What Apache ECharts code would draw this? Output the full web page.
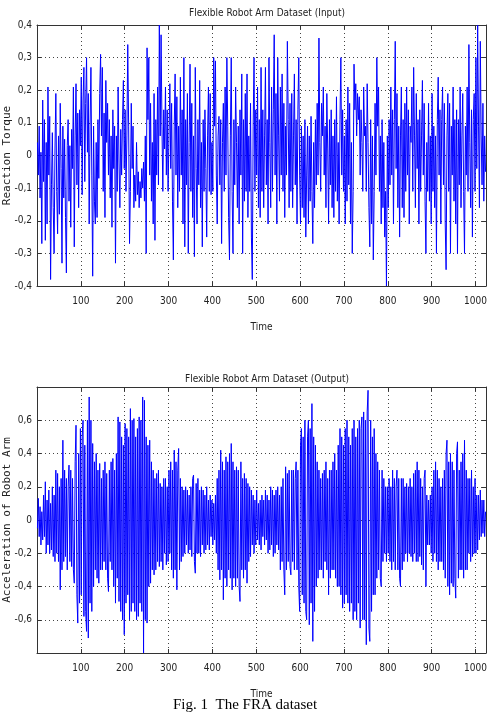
<!DOCTYPE html>
<html>
<head>
<meta charset="utf-8">
<script src="https://cdn.jsdelivr.net/npm/echarts@6/dist/echarts.min.js"></script>
<style>html,body{margin:0;padding:0;background:#fff;}#c{width:492px;height:712px;}</style>
</head>
<body>
<div id="c"></div>
<script>
// Flexible Robot Arm dataset (every 2nd sample, t = 1,3,5,...)
const inputValues = [
0.04,-0.06,0.09,-0.13,0.01,-0.27,0.17,-0.08,0.11,-0.26,0.04,-0.21,0.21,-0.06,0.12,-0.38,-0.09,0.07,-0.16,-0.3,0.02,0.19,-0.11,-0.24,0.06,-0.18,0.16,-0.04,-0.33,0.09,-0.13,0.05,
-0.19,-0.36,0.03,0.11,-0.14,0.03,-0.22,0.08,-0.04,0.21,-0.28,0.06,0.22,-0.09,0.13,-0.16,0.14,0.03,0.24,-0.12,0.17,0.27,-0.08,0.16,0.3,0.01,0.19,-0.21,0.09,0.27,-0.06,-0.37,
0.09,-0.14,-0.21,0.04,-0.19,0.11,-0.07,0.19,0.31,0.06,0.27,-0.11,0.13,-0.19,0.23,0.04,0.16,-0.06,0.11,-0.13,0.06,-0.22,0.14,-0.04,0.09,-0.33,0.06,-0.11,0.21,-0.02,-0.16,0.08,
-0.06,0.11,0.23,-0.04,0.14,-0.11,0.06,0.34,0.09,-0.27,-0.11,0.16,-0.04,0.09,-0.16,-0.06,-0.14,0.04,-0.12,-0.05,-0.16,-0.08,-0.13,-0.04,-0.1,-0.02,-0.14,0.06,-0.3,0.33,0.11,0.3,
-0.06,0.16,-0.14,0.04,-0.21,0.19,-0.26,0.11,-0.06,0.21,-0.09,0.4,0.06,0.37,0.09,-0.11,0.14,0.02,0.21,-0.06,0.14,-0.11,0.06,0.22,-0.04,0.16,-0.14,-0.32,0.09,0.25,-0.06,0.18,
-0.16,0.09,-0.11,0.24,-0.06,0.14,-0.21,0.3,-0.28,0.11,-0.09,0.19,-0.3,0.04,0.28,-0.11,0.16,-0.19,0.06,-0.31,0.27,-0.04,-0.21,0.11,-0.09,0.23,-0.16,0.04,-0.28,0.11,-0.11,0.14,
-0.04,-0.25,0.06,0.21,-0.11,0.19,-0.12,0.04,-0.11,0.3,0.09,0.29,-0.06,-0.21,0.06,0.12,-0.09,0.11,-0.27,0.04,0.16,-0.11,0.21,-0.06,0.3,0.09,-0.19,-0.32,0.06,0.3,-0.11,-0.3,
0.11,-0.09,0.21,0.04,-0.16,0.09,-0.21,0.14,-0.06,0.25,-0.3,0.11,-0.14,0.19,-0.11,0.25,-0.19,0.06,-0.11,0.16,-0.25,-0.38,0.09,0.3,-0.11,0.14,-0.06,0.21,-0.16,0.11,-0.19,0.27,
-0.11,0.14,-0.16,0.06,0.27,-0.09,0.11,-0.21,0.3,0.04,-0.16,0.21,-0.11,0.14,0.37,-0.06,0.19,-0.21,0.3,0.06,-0.14,0.21,-0.06,0.25,-0.11,0.16,-0.19,0.09,-0.06,0.35,0.11,-0.16,
0.16,-0.11,0.19,-0.16,0.06,0.25,-0.09,0.11,-0.21,0.14,0.3,-0.06,-0.21,0.09,-0.16,0.06,-0.19,0.11,-0.25,-0.06,0.09,-0.21,0.06,-0.14,0.12,-0.11,-0.27,0.04,-0.16,0.11,-0.09,0.16,
-0.06,0.36,0.04,-0.11,0.16,0.06,0.21,-0.06,0.09,-0.16,0.19,0.02,-0.21,0.11,-0.09,0.14,-0.16,0.06,-0.19,0.11,-0.11,0.18,-0.14,0.04,-0.21,0.11,0.3,-0.06,0.14,-0.11,0.06,-0.21,
0.11,-0.14,0.21,-0.09,0.16,-0.21,0.04,-0.3,-0.11,0.28,0.14,0.22,0.06,0.19,0.11,0.18,-0.06,0.14,0.04,-0.11,0.21,0.06,0.09,-0.11,0.22,0.04,-0.16,-0.28,0.11,-0.21,0.06,-0.32,
-0.11,0.16,-0.06,0.3,0.09,0.21,-0.11,0.06,-0.21,0.11,-0.16,0.04,-0.25,-0.11,-0.4,0.06,-0.16,0.11,-0.09,0.21,-0.06,0.14,-0.21,0.11,0.35,-0.04,0.19,-0.16,0.09,-0.25,0.06,0.21,
-0.16,0.11,-0.19,0.16,-0.11,0.21,-0.06,0.14,-0.21,0.09,0.04,0.21,-0.11,0.27,0.06,-0.16,0.19,-0.04,0.11,-0.21,0.14,-0.11,0.06,0.23,-0.06,0.16,-0.14,-0.3,0.04,-0.11,0.16,-0.14,
0.06,-0.21,0.19,-0.11,0.09,-0.16,0.06,-0.3,0.11,0.24,-0.06,0.14,-0.21,0.11,0.21,-0.09,0.16,-0.21,-0.35,0.06,0.19,-0.11,0.16,-0.3,0.09,-0.06,0.21,-0.14,0.11,-0.21,0.14,-0.3,
0.11,-0.09,0.21,-0.16,0.06,0.19,-0.11,-0.3,0.09,-0.06,0.21,-0.11,0.34,0.04,-0.16,0.14,-0.25,0.11,0.19,-0.11,0.3,-0.04,0.4,0.09,-0.16,0.35,0.06,-0.09,0.16,-0.14,0.06,-0.05
];
const outputValues = [
-0.05,0.13,-0.1,0.08,-0.15,0.05,-0.12,0.15,-0.1,0.23,-0.2,0.12,-0.15,0.18,-0.2,0.1,-0.18,0.2,-0.22,0.15,-0.25,0.3,-0.2,0.28,-0.25,0.2,-0.42,0.25,-0.3,0.48,-0.25,0.3,
-0.22,0.25,-0.3,0.2,0.33,-0.25,0.3,-0.28,0.25,-0.3,-0.38,0.35,0.57,-0.45,-0.62,0.4,-0.5,0.55,-0.45,0.5,0.6,-0.58,0.45,-0.55,-0.67,0.6,-0.71,0.74,-0.5,0.6,-0.55,0.46,
-0.4,0.35,-0.3,0.4,-0.35,0.3,-0.38,0.34,-0.3,0.25,-0.3,0.3,-0.25,0.35,-0.3,0.28,-0.35,-0.43,0.3,-0.25,0.35,-0.3,0.37,-0.4,0.3,-0.5,0.4,-0.35,0.62,-0.49,0.59,-0.55,
0.5,-0.6,0.45,-0.69,0.58,-0.5,0.55,-0.45,0.5,-0.6,0.67,-0.55,0.6,-0.5,0.61,-0.55,0.5,-0.6,0.55,-0.58,0.62,-0.5,0.6,-0.55,0.74,-0.8,0.72,-0.6,0.5,-0.62,0.45,-0.4,
0.48,-0.38,0.35,-0.3,0.3,-0.33,0.25,-0.3,0.28,-0.25,0.3,-0.28,0.22,-0.25,0.2,-0.3,0.25,-0.2,0.25,-0.27,0.2,-0.25,0.3,-0.2,0.35,-0.3,0.3,-0.35,0.42,-0.3,0.35,-0.42,
0.3,0.43,-0.3,0.25,-0.25,0.2,-0.22,0.18,-0.2,0.2,-0.15,0.18,-0.2,0.15,-0.18,0.2,-0.22,0.25,0.27,-0.25,-0.32,0.22,-0.2,0.25,-0.2,0.18,-0.22,0.2,-0.15,0.18,-0.2,0.15,
-0.18,0.2,-0.15,0.12,-0.18,0.15,-0.1,0.12,-0.15,0.1,-0.12,0.15,-0.2,0.25,-0.3,0.3,-0.36,0.42,-0.3,0.35,-0.48,0.3,-0.35,0.38,-0.4,0.35,-0.3,0.4,-0.35,0.46,-0.42,0.35,
-0.35,0.3,-0.4,0.32,-0.35,0.3,-0.4,-0.49,0.35,-0.3,0.25,-0.35,0.28,-0.3,0.25,-0.38,0.22,-0.25,0.2,-0.22,0.18,-0.15,0.15,-0.2,0.12,-0.15,0.18,-0.12,0.1,-0.15,0.12,-0.18,
0.15,-0.1,0.12,-0.15,0.18,-0.12,0.15,-0.2,0.12,-0.18,0.2,-0.15,0.18,-0.22,0.15,-0.2,0.18,-0.15,0.2,-0.18,0.15,-0.3,0.2,-0.25,0.25,-0.3,-0.45,0.32,-0.3,0.28,-0.25,0.3,
-0.28,-0.33,0.3,-0.25,0.3,-0.3,0.25,0.35,-0.3,0.3,-0.4,-0.55,0.45,0.55,-0.45,0.5,-0.5,0.6,-0.55,-0.6,0.5,0.6,-0.63,0.55,-0.5,0.7,-0.73,0.5,-0.55,0.45,-0.4,0.35,
-0.35,0.3,-0.3,0.25,-0.3,0.28,-0.35,0.3,-0.25,0.35,-0.3,0.25,-0.45,0.3,-0.35,0.3,-0.3,0.35,-0.3,0.4,-0.35,0.3,-0.4,0.45,-0.4,0.55,-0.45,0.5,-0.53,0.45,-0.5,0.55,
-0.45,0.6,-0.5,0.5,-0.55,0.45,-0.5,0.55,-0.6,0.6,-0.55,0.5,-0.6,0.55,-0.5,0.6,-0.65,0.55,0.62,-0.6,0.65,-0.6,0.6,-0.75,0.65,0.78,-0.65,-0.73,0.6,-0.55,0.5,-0.45,
0.55,-0.45,0.4,-0.35,0.35,-0.3,0.3,-0.35,-0.4,0.3,-0.25,0.25,-0.2,0.2,-0.25,0.2,-0.2,0.25,-0.25,0.2,-0.3,0.3,-0.25,0.25,-0.3,0.2,0.3,-0.3,0.25,-0.35,-0.4,0.25,
-0.3,0.25,-0.25,0.2,-0.2,0.22,-0.25,0.2,-0.2,0.25,-0.22,0.2,-0.25,0.28,-0.2,0.3,-0.25,0.35,-0.25,0.3,-0.22,0.25,-0.27,0.2,-0.3,0.25,0.3,-0.4,0.15,-0.15,0.12,-0.15,
0.15,-0.2,0.2,-0.25,0.3,-0.2,0.35,-0.25,0.3,-0.3,0.25,-0.25,0.2,-0.25,0.25,-0.3,0.3,-0.35,0.4,0.48,-0.4,0.35,-0.45,0.4,-0.38,0.35,-0.4,0.3,-0.35,-0.47,0.4,0.47,
-0.35,0.3,-0.3,0.35,-0.3,0.4,-0.35,0.48,-0.3,0.3,-0.3,0.25,-0.2,0.25,-0.25,0.3,-0.22,0.2,-0.2,0.25,-0.2,0.15,-0.18,0.15,-0.12,0.18,-0.1,0.12,-0.08,0.12,-0.1,0.05
];
const sampleStep = 2;
const timeIndex = inputValues.map((_, i) => 1 + i * sampleStep);
const xTickValues = [100, 200, 300, 400, 500, 600, 700, 800, 900, 1000];
const titles = ['Flexible Robot Arm Dataset (Input)', 'Flexible Robot Arm Dataset (Output)'];
const yNames = ['Reaction Torque', 'Acceleration of Robot Arm'];
const caption = 'Fig. 1  The FRA dataset';

const chart = echarts.init(document.getElementById('c'), null, {renderer: 'canvas'});
const txt = '#222';
const lblFont = "'Liberation Sans Narrow','DejaVu Sans Condensed',sans-serif";
const fmtY = v => Math.abs(v) < 1e-9 ? '0' : (v < 0 ? '-' : '') + Math.abs(v).toFixed(1).replace('.', ',');
const fmtX = v => xTickValues.indexOf(Math.round(v)) >= 0 ? String(Math.round(v)) : '';
const grids = [
  {left: 37, right: 6, top: 25, height: 261, containLabel: false, outerBoundsMode: 'none'},
  {left: 37, right: 6, top: 387, height: 266, containLabel: false, outerBoundsMode: 'none'}
];
const yRanges = [{min: -0.4, max: 0.4, interval: 0.1, lim: 0.4}, {min: -0.8, max: 0.8, interval: 0.2, lim: 0.6}];
const xAxes = [], yAxes = [];
const edge = {show: true, onZero: false, lineStyle: {color: '#333', width: 1}};
const tick = {show: true, inside: true, length: 4, lineStyle: {color: '#333'}};
grids.forEach((g, gi) => {
  const base = {gridIndex: gi, type: 'value', min: 0, max: 1024, interval: 100};
  xAxes.push(Object.assign({}, base, {
    position: 'bottom', axisLine: edge, axisTick: tick,
    axisLabel: {formatter: fmtX, color: txt, fontFamily: lblFont, fontSize: 10, margin: 10},
    splitLine: {show: true, lineStyle: {color: '#444', type: [1, 3], width: 1}},
    name: 'Time', nameLocation: 'middle', nameGap: 36, nameMoveOverlap: false,
    nameTextStyle: {color: txt, fontFamily: lblFont, fontSize: 10}
  }));
  xAxes.push(Object.assign({}, base, {
    position: 'top', axisLine: edge, axisTick: tick,
    axisLabel: {show: false}, splitLine: {show: false}
  }));
  const r = yRanges[gi];
  const ybase = {gridIndex: gi, type: 'value', min: r.min, max: r.max, interval: r.interval};
  yAxes.push(Object.assign({}, ybase, {
    position: 'left', axisLine: edge, axisTick: tick,
    axisLabel: {formatter: v => Math.abs(v) > r.lim + 1e-6 ? '' : fmtY(v), color: txt, fontFamily: lblFont, fontSize: 10, margin: 5},
    splitLine: {show: true, lineStyle: {color: '#444', type: [1, 3], width: 1}},
    name: yNames[gi], nameLocation: 'middle', nameGap: 24, nameRotate: 90, nameMoveOverlap: false,
    nameTextStyle: {color: txt, fontFamily: "'DejaVu Sans Mono',monospace", fontSize: 11}
  }));
  yAxes.push(Object.assign({}, ybase, {
    position: 'right', axisLine: edge, axisTick: tick,
    axisLabel: {show: false}, splitLine: {show: false}
  }));
});

chart.setOption({
  animation: false,
  backgroundColor: '#fff',
  title: [
    {text: titles[0], left: 262, textAlign: 'center', top: 3, textStyle: {fontFamily: lblFont, fontSize: 10, fontWeight: 'normal', color: txt}},
    {text: titles[1], left: 262, textAlign: 'center', top: 369, textStyle: {fontFamily: lblFont, fontSize: 10, fontWeight: 'normal', color: txt}},
    {text: caption, left: 168, top: 693, textStyle: {fontFamily: "'Liberation Serif','Times New Roman',serif", fontSize: 15, fontWeight: 'normal', color: '#000'}}
  ],
  grid: grids,
  xAxis: xAxes,
  yAxis: yAxes,
  series: [
    {type: 'line', xAxisIndex: 0, yAxisIndex: 0, showSymbol: false, data: timeIndex.map((t, i) => [t, inputValues[i]]), lineStyle: {color: '#0000ff', width: 1}},
    {type: 'line', xAxisIndex: 2, yAxisIndex: 2, showSymbol: false, data: timeIndex.map((t, i) => [t, outputValues[i]]), lineStyle: {color: '#0000ff', width: 1}}
  ]
});
</script>
</body>
</html>
